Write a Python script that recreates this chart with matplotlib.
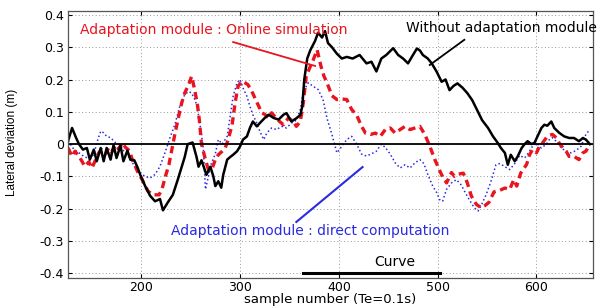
import numpy as np
import matplotlib
matplotlib.use("Agg")
import matplotlib.pyplot as plt

plt.rcParams['font.family'] = ['DejaVu Sans']

# sample numbers / lateral deviation
x_without = [126, 130, 134, 137, 141, 145, 148, 152, 155, 159, 162, 165, 169, 172, 175, 179,
             182, 186, 189, 193, 196, 199, 204, 209, 214, 219, 222, 227, 232, 237, 241, 244,
             247, 252, 256, 258, 261, 266, 270, 273, 275, 278, 281, 283, 287, 290, 293, 297,
             300, 303, 307, 310, 313, 317, 320, 325, 329, 334, 339, 344, 347, 352, 357, 361,
             363, 365, 368, 371, 376, 379, 383, 386, 389, 393, 398, 403, 408, 414, 421, 428,
             433, 438, 443, 448, 455, 460, 465, 470, 475, 479, 482, 485, 490, 494, 499, 504,
             508, 512, 516, 520, 525, 530, 535, 540, 545, 551, 556, 561, 564, 568, 571, 574,
             578, 581, 585, 588, 591, 595, 598, 601, 605, 608, 611, 615, 618, 623, 628, 633,
             638, 643, 647, 650, 654]
y_without = [0.01, 0.05, 0.02, 0.0, -0.017, -0.012, -0.048, -0.017, -0.053, -0.012, -0.053, -0.012, -0.048, -0.003, -0.043, -0.005,
             -0.053, -0.02, -0.048, -0.05, -0.07, -0.095, -0.13, -0.16, -0.177, -0.17, -0.205, -0.18, -0.157, -0.11, -0.07, -0.04,
             0.0, 0.005, -0.04, -0.07, -0.05, -0.095, -0.07, -0.10, -0.13, -0.115, -0.135, -0.095, -0.048, -0.04, -0.033, -0.022,
             -0.007, 0.014, 0.024, 0.05, 0.07, 0.055, 0.065, 0.081, 0.091, 0.081, 0.076, 0.091, 0.096, 0.07, 0.08, 0.09,
             0.117, 0.2, 0.265, 0.29, 0.32, 0.345, 0.33, 0.35, 0.313, 0.30, 0.28, 0.265, 0.27, 0.265, 0.276, 0.25,
             0.255, 0.225, 0.265, 0.276, 0.297, 0.276, 0.265, 0.25, 0.276, 0.296, 0.29, 0.276, 0.265, 0.25, 0.224, 0.193,
             0.2, 0.167, 0.18, 0.188, 0.175, 0.158, 0.136, 0.105, 0.074, 0.05, 0.024, 0.003, -0.012, -0.027, -0.064, -0.033,
             -0.053, -0.038, -0.012, 0.0, 0.009, 0.0, 0.004, 0.024, 0.05, 0.06, 0.057, 0.07, 0.05, 0.035, 0.024, 0.019,
             0.019, 0.009, 0.019, 0.014, 0.0]

x_online = [126, 130, 133, 137, 140, 143, 147, 150, 154, 157, 160, 164, 167, 170, 174, 177,
            181, 184, 188, 191, 194, 197, 201, 204, 207, 212, 218, 221, 224, 228, 231, 234,
            238, 241, 244, 248, 251, 254, 257, 259, 261, 265, 268, 272, 275, 278, 282, 285,
            288, 292, 295, 298, 302, 305, 308, 312, 315, 319, 322, 325, 329, 332, 335, 340,
            344, 349, 354, 357, 361, 364, 367, 371, 374, 378, 382, 385, 388, 393, 398, 403,
            408, 413, 418, 423, 427, 432, 437, 442, 447, 452, 457, 462, 467, 472, 477, 482,
            487, 492, 497, 500, 504, 509, 514, 517, 521, 526, 530, 534, 539, 544, 548, 552,
            557, 563, 568, 573, 577, 580, 584, 590, 593, 596, 600, 603, 606, 611, 616, 620,
            623, 627, 630, 633, 638, 643, 647, 650, 653]
y_online = [-0.012, -0.038, -0.022, -0.038, -0.053, -0.069, -0.055, -0.074, -0.048, -0.027, -0.017, -0.03, -0.012, -0.025, -0.003, -0.015,
            0.004, -0.01, -0.02, -0.048, -0.069, -0.09, -0.11, -0.13, -0.146, -0.157, -0.157, -0.14, -0.105, -0.064, -0.017, 0.03,
            0.087, 0.128, 0.158, 0.184, 0.21, 0.17, 0.12, 0.07, 0.0, -0.048, -0.079, -0.074, -0.048, -0.033, -0.022, -0.012,
            0.014, 0.06, 0.128, 0.179, 0.195, 0.19, 0.184, 0.163, 0.143, 0.117, 0.097, 0.092, 0.081, 0.097, 0.086, 0.07,
            0.06, 0.081, 0.07, 0.055, 0.07, 0.128, 0.21, 0.24, 0.26, 0.292, 0.24, 0.21, 0.19, 0.15, 0.138, 0.14,
            0.138, 0.107, 0.09, 0.055, 0.034, 0.03, 0.034, 0.024, 0.045, 0.05, 0.034, 0.045, 0.055, 0.045, 0.05, 0.055,
            0.03, -0.006, -0.047, -0.068, -0.095, -0.12, -0.088, -0.1, -0.093, -0.09, -0.12, -0.16, -0.186, -0.197, -0.19, -0.18,
            -0.148, -0.143, -0.136, -0.14, -0.11, -0.13, -0.09, -0.063, -0.033, -0.017, -0.027, -0.007, 0.003, 0.024, 0.03, 0.02,
            0.003, -0.012, -0.022, -0.038, -0.038, -0.048, -0.027, -0.022, -0.007]

x_direct = [126, 132, 137, 142, 147, 152, 155, 159, 162, 165, 169, 174, 179, 182, 187, 191,
            194, 199, 204, 209, 214, 219, 224, 229, 234, 239, 244, 248, 251, 255, 258, 261,
            263, 265, 268, 271, 275, 278, 282, 287, 290, 293, 297, 300, 303, 307, 310, 313,
            317, 320, 324, 327, 332, 337, 342, 347, 352, 357, 361, 364, 369, 374, 379, 384,
            388, 393, 398, 403, 408, 413, 418, 423, 428, 433, 438, 443, 447, 452, 457, 462,
            467, 472, 477, 482, 486, 490, 495, 499, 502, 505, 509, 514, 519, 524, 527, 532,
            537, 541, 544, 549, 554, 559, 563, 568, 573, 578, 583, 588, 593, 596, 600, 605,
            610, 613, 616, 622, 625, 630, 635, 640, 645, 650, 654]
y_direct = [0.01, -0.017, -0.027, -0.038, -0.045, -0.033, 0.004, 0.04, 0.035, 0.024, 0.02, 0.004, -0.003, -0.02, -0.038, -0.058,
            -0.069, -0.09, -0.1, -0.105, -0.094, -0.069, -0.027, 0.019, 0.06, 0.117, 0.153, 0.163, 0.158, 0.133, 0.09, 0.03,
            -0.02, -0.14, -0.1, -0.06, -0.03, 0.014, 0.0, 0.024, 0.086, 0.148, 0.19, 0.2, 0.174, 0.148, 0.117, 0.091,
            0.065, 0.04, 0.014, 0.034, 0.05, 0.045, 0.055, 0.05, 0.065, 0.074, 0.107, 0.163, 0.19, 0.179, 0.169, 0.138,
            0.08, 0.03, -0.027, -0.007, 0.014, 0.024, 0.0, -0.031, -0.037, -0.03, -0.022, 0.0, -0.01, -0.031, -0.058, -0.074,
            -0.064, -0.074, -0.058, -0.048, -0.06, -0.094, -0.13, -0.15, -0.172, -0.177, -0.14, -0.12, -0.11, -0.127, -0.145, -0.172,
            -0.197, -0.207, -0.19, -0.157, -0.115, -0.064, -0.06, -0.07, -0.079, -0.06, -0.035, -0.043, -0.022, -0.007, 0.003, -0.012,
            0.0, 0.014, 0.02, 0.003, -0.012, -0.022, -0.027, -0.02, -0.007, 0.03, 0.045]

curve_x = [364, 502]
curve_y = [-0.4, -0.4]

fig = plt.figure(figsize=(6.08, 3.07), dpi=100)
ax = fig.add_axes([0.112, 0.094, 0.863, 0.870])

ax.plot(x_direct, y_direct, color='#2a2ae0', linestyle=':', linewidth=1.1)
ax.plot(x_online, y_online, color='#e8141e', linestyle=(0, (2.2, 1.4)), linewidth=2.4)
ax.plot(x_without, y_without, color='black', linewidth=1.8)
ax.axhline(0, color='black', linewidth=1.3)
ax.plot(curve_x, curve_y, color='black', linewidth=2.2)
ax.text(457, -0.366, 'Curve', fontsize=10, ha='center', va='center')

# labels with pointer lines
ax.text(138, 0.354, 'Adaptation module : Online simulation', color='#e8141e',
        fontsize=10, va='center')
ax.plot([293, 376], [0.316, 0.242], color='#e8141e', linewidth=1.3)
ax.text(468, 0.36, 'Without adaptation module', color='black', fontsize=10, va='center')
ax.plot([527, 492], [0.323, 0.245], color='black', linewidth=1.3)
ax.text(230, -0.269, 'Adaptation module : direct computation', color='#2a2ae0',
        fontsize=10, va='center')
ax.plot([424, 357], [-0.071, -0.241], color='#2a2ae0', linewidth=1.5)

ax.set_xlim(126, 657)
ax.set_ylim(-0.415, 0.412)
ax.set_xticks([200, 300, 400, 500, 600])
ax.set_yticks([-0.4, -0.3, -0.2, -0.1, 0, 0.1, 0.2, 0.3, 0.4])
ax.set_yticklabels(['-0.4', '-0.3', '-0.2', '-0.1', '0', '0.1', '0.2', '0.3', '0.4'])
ax.grid(True, color='#999999', linestyle=(0, (1, 2.5)), linewidth=0.7)
ax.tick_params(direction='in', length=3, labelsize=9, top=True, right=True, pad=3)
ax.tick_params(axis='x', pad=2)
for s in ax.spines.values():
    s.set_color('#555555')
    s.set_linewidth(0.9)

ax.set_xlabel('sample number (Te=0.1s)', fontsize=9.5, labelpad=-1)
ax.set_ylabel('Lateral deviation (m)', fontsize=8.5, family='Liberation Sans')
ax.yaxis.set_label_coords(-0.095, 0.51)

fig.savefig('out.png', dpi=100)
